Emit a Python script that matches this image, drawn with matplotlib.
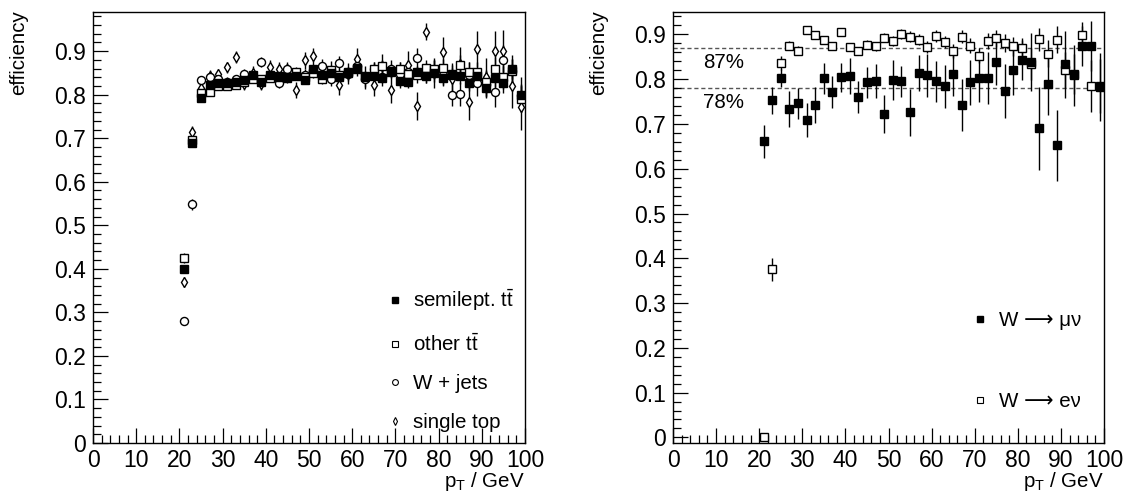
import matplotlib
matplotlib.use("Agg")
import matplotlib.pyplot as plt
from matplotlib.lines import Line2D
from matplotlib.ticker import MultipleLocator, FuncFormatter

plt.rcParams['font.family'] = ['Liberation Sans', 'DejaVu Sans']
plt.rcParams['mathtext.fontset'] = 'custom'
plt.rcParams['mathtext.rm'] = 'Liberation Sans'
plt.rcParams['mathtext.it'] = 'Liberation Sans:italic'
plt.rcParams['mathtext.bf'] = 'Liberation Sans:bold'

# ---------------- data ----------------
pt = [21, 23, 25, 27, 29, 31, 33, 35, 37, 39, 41, 43, 45, 47, 49, 51, 53, 55, 57, 59,
      61, 63, 65, 67, 69, 71, 73, 75, 77, 79, 81, 83, 85, 87, 89, 91, 93, 95, 97, 99]

semilept = [0.400, 0.690, 0.792, 0.822, 0.826, 0.826, 0.830, 0.834, 0.846, 0.829, 0.846, 0.842, 0.840, 0.844,
            0.834, 0.858, 0.845, 0.851, 0.841, 0.852, 0.862, 0.842, 0.842, 0.838, 0.853, 0.832, 0.829, 0.853,
            0.842, 0.851, 0.838, 0.845, 0.842, 0.827, 0.842, 0.815, 0.838, 0.826, 0.860, 0.800]
semilept_err = [0.010, 0.008, 0.006, 0.006, 0.006, 0.006, 0.006, 0.006, 0.006, 0.007, 0.007, 0.007, 0.007, 0.008,
                0.008, 0.008, 0.009, 0.009, 0.009, 0.010, 0.010, 0.011, 0.011, 0.012, 0.012, 0.013, 0.013, 0.014,
                0.014, 0.015, 0.016, 0.016, 0.017, 0.018, 0.019, 0.020, 0.020, 0.022, 0.023, 0.025]

other_tt = [0.425, 0.695, 0.804, 0.807, 0.821, 0.820, 0.823, 0.829, 0.835, 0.836, 0.839, 0.840, 0.838, 0.852,
            0.840, 0.850, 0.836, 0.857, 0.845, 0.850, 0.858, 0.840, 0.860, 0.865, 0.855, 0.860, 0.848, 0.846,
            0.862, 0.860, 0.861, 0.848, 0.869, 0.852, 0.852, 0.830, 0.860, 0.840, 0.855, 0.790]
other_tt_err = [0.012, 0.010, 0.008, 0.008, 0.008, 0.008, 0.008, 0.008, 0.009, 0.009, 0.009, 0.010, 0.010, 0.010,
                0.011, 0.011, 0.012, 0.012, 0.013, 0.013, 0.014, 0.014, 0.015, 0.015, 0.016, 0.016, 0.017, 0.018,
                0.018, 0.019, 0.020, 0.021, 0.022, 0.023, 0.024, 0.025, 0.026, 0.027, 0.028, 0.030]

wjets = [0.280, 0.548, 0.833, 0.840, 0.835, 0.830, 0.835, 0.848, 0.840, 0.875, 0.845, 0.827, 0.858, 0.850,
         0.845, 0.855, 0.867, 0.835, 0.872, 0.848, 0.867, 0.835, 0.858, 0.840, 0.860, 0.848, 0.853, 0.884,
         0.850, 0.855, 0.845, 0.800, 0.802, 0.845, 0.827, 0.825, 0.806, 0.879, 0.855, 0.800]
wjets_err = [0.010, 0.012, 0.010, 0.010, 0.010, 0.010, 0.011, 0.011, 0.011, 0.012, 0.012, 0.012, 0.013, 0.013,
             0.014, 0.014, 0.015, 0.015, 0.016, 0.016, 0.017, 0.018, 0.018, 0.019, 0.020, 0.021, 0.022, 0.023,
             0.024, 0.025, 0.026, 0.027, 0.028, 0.030, 0.031, 0.032, 0.034, 0.035, 0.037, 0.040]

single_top = [0.370, 0.715, 0.816, 0.844, 0.848, 0.863, 0.886, 0.825, 0.850, 0.825, 0.863, 0.859, 0.859, 0.811,
              0.879, 0.888, 0.850, 0.855, 0.823, 0.848, 0.882, 0.840, 0.823, 0.865, 0.811, 0.845, 0.869, 0.774,
              0.945, 0.850, 0.897, 0.836, 0.871, 0.783, 0.905, 0.840, 0.901, 0.901, 0.820, 0.771]
single_top_err = [0.012, 0.012, 0.010, 0.012, 0.012, 0.013, 0.014, 0.014, 0.015, 0.015, 0.016, 0.017, 0.017, 0.018,
                  0.019, 0.020, 0.021, 0.022, 0.023, 0.024, 0.025, 0.026, 0.027, 0.028, 0.029, 0.030, 0.031, 0.032,
                  0.020, 0.034, 0.036, 0.037, 0.038, 0.040, 0.042, 0.044, 0.046, 0.048, 0.050, 0.052]

w_mu = [0.661, 0.753, 0.803, 0.734, 0.746, 0.708, 0.742, 0.802, 0.771, 0.804, 0.807, 0.760, 0.793, 0.795,
        0.722, 0.798, 0.795, 0.726, 0.813, 0.809, 0.795, 0.784, 0.811, 0.742, 0.793, 0.803, 0.803, 0.838,
        0.773, 0.820, 0.843, 0.839, 0.690, 0.789, 0.652, 0.833, 0.809, 0.874, 0.874, 0.782]
w_mu_err = [0.037, 0.030, 0.020, 0.040, 0.035, 0.038, 0.040, 0.035, 0.035, 0.033, 0.040, 0.035, 0.035, 0.038,
            0.043, 0.045, 0.035, 0.052, 0.040, 0.048, 0.045, 0.048, 0.048, 0.058, 0.050, 0.055, 0.058, 0.050,
            0.060, 0.055, 0.045, 0.065, 0.092, 0.070, 0.080, 0.075, 0.068, 0.045, 0.055, 0.076]

w_e = [0.000, 0.375, 0.836, 0.875, 0.863, 0.909, 0.898, 0.887, 0.875, 0.906, 0.871, 0.863, 0.877, 0.873,
       0.893, 0.885, 0.900, 0.895, 0.888, 0.872, 0.896, 0.883, 0.863, 0.895, 0.875, 0.852, 0.885, 0.891,
       0.880, 0.873, 0.869, 0.834, 0.889, 0.857, 0.888, 0.820, 0.812, 0.898, 0.785, 0.785]
w_e_err = [0.000, 0.025, 0.015, 0.010, 0.010, 0.008, 0.008, 0.008, 0.008, 0.008, 0.009, 0.009, 0.010, 0.010,
           0.010, 0.011, 0.011, 0.012, 0.012, 0.013, 0.013, 0.014, 0.015, 0.015, 0.016, 0.017, 0.018, 0.019,
           0.020, 0.021, 0.022, 0.035, 0.025, 0.030, 0.030, 0.040, 0.045, 0.030, 0.058, 0.060]

ref_levels = [0.87, 0.78]
ref_labels = ["87%", "78%"]

# ---------------- figure ----------------
W, H = 1124, 495
fig = plt.figure(figsize=(W / 100, H / 100), dpi=100)
axL = fig.add_axes([93 / W, 52 / H, 432 / W, 431 / H])
axR = fig.add_axes([673 / W, 52 / H, 431 / W, 431 / H])

FS_TICK = 16.5
FS = 14.8


def style(ax, ymin, ymax):
    ax.set_xlim(0, 100)
    ax.set_ylim(ymin, ymax)
    ax.xaxis.set_major_locator(MultipleLocator(10))
    ax.xaxis.set_minor_locator(MultipleLocator(2))
    ax.yaxis.set_major_locator(MultipleLocator(0.1))
    ax.yaxis.set_minor_locator(MultipleLocator(0.02))
    ax.tick_params(which='both', direction='in', top=False, right=False, labelsize=FS_TICK)
    ax.tick_params(which='major', length=11, width=0.9)
    ax.tick_params(which='minor', length=5.5, width=0.9)
    ax.tick_params(axis='x', pad=4)
    ax.tick_params(axis='y', pad=5)
    ax.yaxis.set_major_formatter(FuncFormatter(lambda v, p: "0" if abs(v) < 1e-9 else f"{v:.1f}"))
    for s in ax.spines.values():
        s.set_linewidth(1.0)
    ax.set_xlabel(r"p$_\mathrm{T}$ / GeV", fontsize=FS, ha='right', va='top')
    ax.xaxis.set_label_coords(1.0, -0.062)
    ax.set_ylabel("efficiency", fontsize=FS, ha='right', va='bottom')
    ax.yaxis.set_label_coords(-0.150, 1.005)


def eb(ax, y, e, marker, ms, mfc, mew=1.0):
    ax.errorbar(pt, y, yerr=e, fmt=marker, ms=ms, mfc=mfc, mec='black', mew=mew,
                ecolor='black', elinewidth=1.0, capsize=0, zorder=3)


# left panel
style(axL, 0, 0.99)
eb(axL, single_top, single_top_err, 'd', 4.8, 'white')
eb(axL, wjets, wjets_err, 'o', 5.8, 'white')
eb(axL, other_tt, other_tt_err, 's', 5.3, 'white')
eb(axL, semilept, semilept_err, 's', 5.8, 'black')

handles = [
    Line2D([], [], ls='none', marker='s', ms=4.8, mfc='black', mec='black'),
    Line2D([], [], ls='none', marker='s', ms=4.2, mfc='white', mec='black', mew=0.8),
    Line2D([], [], ls='none', marker='o', ms=4.2, mfc='white', mec='black', mew=0.8),
    Line2D([], [], ls='none', marker='d', ms=3.8, mfc='white', mec='black', mew=0.8),
]
labels = [r"semilept. t$\bar{\mathrm{t}}$", r"other t$\bar{\mathrm{t}}$", "W + jets", "single top"]
axL.legend(handles, labels, loc='upper right', bbox_to_anchor=(0.995, 0.38), frameon=False,
           fontsize=FS, labelspacing=0.95, handlelength=0.6, handletextpad=0.6, borderaxespad=0)

# right panel
style(axR, -0.0125, 0.95)
for lvl in ref_levels:
    axR.axhline(lvl, color='#555555', ls=(0, (3, 2)), lw=1.0, zorder=1)
for lvl, lab in zip(ref_levels, ref_labels):
    axR.text(7.0, lvl - 0.012, lab, fontsize=FS, va='top', ha='left')

eb(axR, w_e, w_e_err, 's', 5.3, 'white')
eb(axR, w_mu, w_mu_err, 's', 5.8, 'black')

handlesR = [
    Line2D([], [], ls='none', marker='s', ms=4.8, mfc='black', mec='black'),
    Line2D([], [], ls='none', marker='s', ms=4.2, mfc='white', mec='black', mew=0.8),
]
labelsR = ["W \u27f6 \u03bc\u03bd", "W \u27f6 e\u03bd"]
axR.legend(handlesR, labelsR, loc='upper left', bbox_to_anchor=(0.68, 0.325), frameon=False,
           fontsize=FS, labelspacing=3.0, handlelength=0.6, handletextpad=0.6, borderaxespad=0,
           prop={'family': ['Liberation Sans', 'DejaVu Sans'], 'size': FS})

fig.savefig("out.png", dpi=100)
